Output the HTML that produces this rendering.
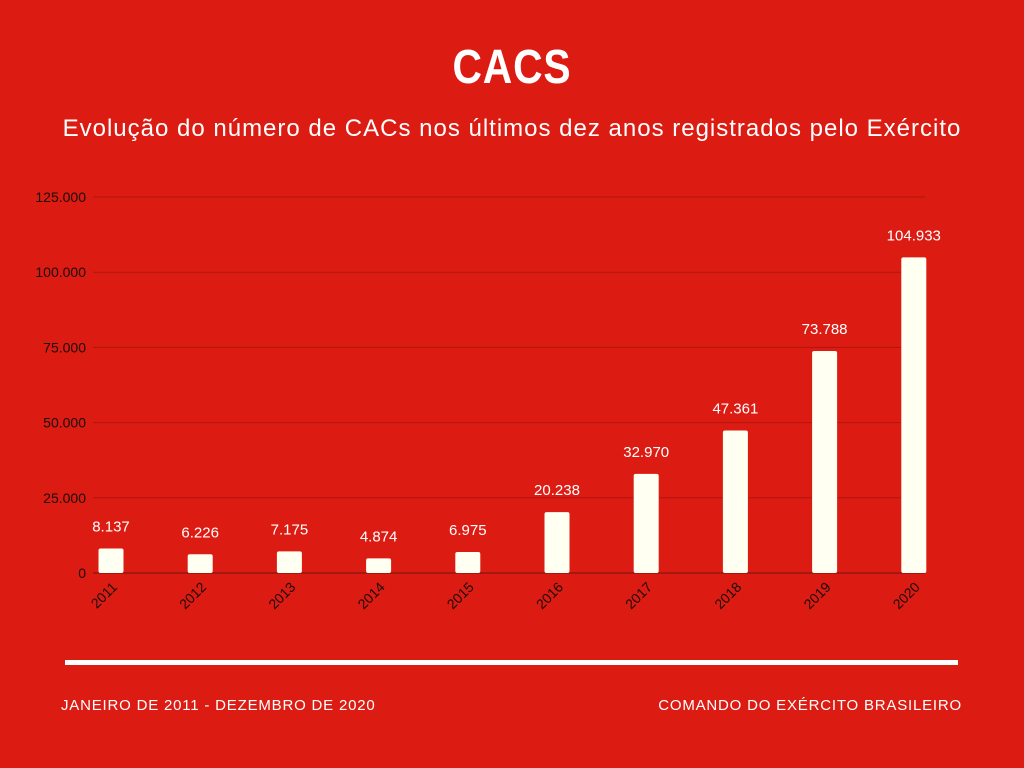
<!DOCTYPE html>
<html><head><meta charset="utf-8"><style>
html,body{margin:0;padding:0;}
body{width:1024px;height:768px;background:#dc1c13;position:relative;overflow:hidden;font-family:"Liberation Sans",sans-serif;color:#fff;}
.t{position:absolute;left:0;width:1024px;text-align:center;}
</style></head><body>
<div class="t" style="top:40px;font-size:48px;font-weight:bold;letter-spacing:1px;transform:scaleX(0.85);">CACS</div>
<div class="t" style="top:115px;font-size:24px;letter-spacing:1px;">Evolução do número de CACs nos últimos dez anos registrados pelo Exército</div>
<svg id="chart" width="1024" height="768" style="position:absolute;left:0;top:0;"></svg>
<div style="position:absolute;left:65px;top:660px;width:893px;height:5px;background:#fff;"></div>
<div style="position:absolute;left:61px;top:697px;font-size:15px;letter-spacing:0.8px;">JANEIRO DE 2011 - DEZEMBRO DE 2020</div>
<div style="position:absolute;right:62px;top:697px;font-size:15px;letter-spacing:0.8px;">COMANDO DO EXÉRCITO BRASILEIRO</div>
<script>
const categories=["2011","2012","2013","2014","2015","2016","2017","2018","2019","2020"];
const values=[8137,6226,7175,4874,6975,20238,32970,47361,73788,104933];
const valueLabels=["8.137","6.226","7.175","4.874","6.975","20.238","32.970","47.361","73.788","104.933"];
const ticks=[0,25000,50000,75000,100000,125000];
const tickLabels=["0","25.000","50.000","75.000","100.000","125.000"];
const NS="http://www.w3.org/2000/svg";
const svg=document.getElementById('chart');
const y0=573,yTop=197,maxV=125000,xL=93,xR=925;
const y=v=>y0-(v/maxV)*(y0-yTop);
function mk(tag,attrs){const e=document.createElementNS(NS,tag);for(const k in attrs)e.setAttribute(k,attrs[k]);svg.appendChild(e);return e;}
ticks.forEach((t,i)=>{
  const g=mk('line',{x1:xL,x2:xR,y1:y(t),y2:y(t),stroke:t===0?'#6a1510':'#b0150e','stroke-width':1});
  
  
  const tx=mk('text',{x:86,y:y(t)+5,'text-anchor':'end','font-size':14,fill:'#1a0a08','font-family':'Liberation Sans, sans-serif'});
  tx.textContent=tickLabels[i];
  
  
});
categories.forEach((c,i)=>{
  const cx=xL+18+i*89.2;
  const r=mk('rect',{x:cx-12.5,y:y(values[i]),width:25,height:y0-y(values[i]),rx:2,fill:'#fffff2'});
  
  
  const l=mk('text',{x:cx,y:y(values[i])-17,'text-anchor':'middle','font-size':15,fill:'#fff','font-family':'Liberation Sans, sans-serif'});
  l.textContent=valueLabels[i];
  
  
  const xl=mk('text',{x:cx+7,y:y0+15,'text-anchor':'end','font-size':14,fill:'#1a0a08','font-family':'Liberation Sans, sans-serif',transform:`rotate(-45 ${cx+7} ${y0+15})`});
  xl.textContent=c;
  
  
});
</script>
</body></html>
